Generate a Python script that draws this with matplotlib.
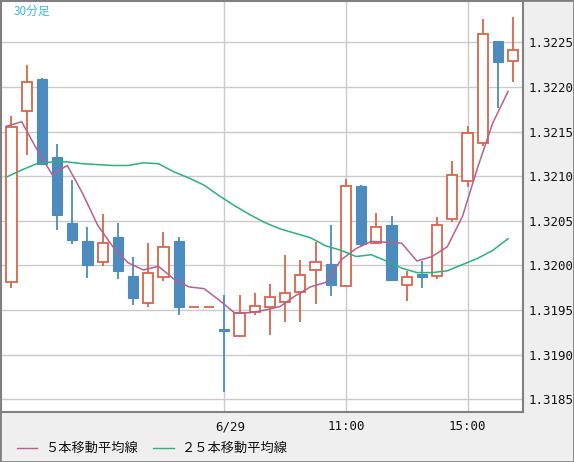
import numpy as np
import matplotlib.pyplot as plt
from matplotlib.lines import Line2D
from matplotlib.patches import Rectangle
import matplotlib.transforms as mtransforms

# 30分足のローソク足 (始値, 高値, 安値, 終値)
opens = [1.31981, 1.32173, 1.32209, 1.32121, 1.32048, 1.32027, 1.32004, 1.32032,
         1.31988, 1.31958, 1.31987, 1.32027, 1.31953, 1.31953, 1.31929, 1.31921,
         1.31948, 1.31953, 1.31959, 1.31970, 1.31995, 1.32002, 1.31977, 1.32089,
         1.32025, 1.32045, 1.31978, 1.31990, 1.31988, 1.32052, 1.32095, 1.32137,
         1.32251, 1.32229]
highs = [1.32167, 1.32225, 1.32210, 1.32136, 1.32096, 1.32043, 1.32058, 1.32048,
         1.32009, 1.32025, 1.32037, 1.32032, 1.31953, 1.31953, 1.31967, 1.31967,
         1.31969, 1.31979, 1.32012, 1.32006, 1.32026, 1.32045, 1.32097, 1.32090,
         1.32059, 1.32055, 1.31994, 1.32005, 1.32054, 1.32117, 1.32156, 1.32276,
         1.32252, 1.32278]
lows = [1.31975, 1.32124, 1.32113, 1.32040, 1.32024, 1.31986, 1.31999, 1.31985,
        1.31956, 1.31953, 1.31983, 1.31945, 1.31953, 1.31953, 1.31858, 1.31920,
        1.31945, 1.31922, 1.31937, 1.31937, 1.31957, 1.31966, 1.31976, 1.32022,
        1.32024, 1.31984, 1.31960, 1.31975, 1.31985, 1.32049, 1.32088, 1.32134,
        1.32176, 1.32206]
closes = [1.32155, 1.32206, 1.32114, 1.32057, 1.32028, 1.32001, 1.32025, 1.31994,
          1.31964, 1.31991, 1.32021, 1.31953, 1.31953, 1.31953, 1.31927, 1.31947,
          1.31955, 1.31965, 1.31969, 1.31989, 1.32004, 1.31978, 1.32089, 1.32024,
          1.32043, 1.31984, 1.31987, 1.31987, 1.32045, 1.32101, 1.32148, 1.32259,
          1.32228, 1.32241]

# 移動平均線
ma5 = [1.32156, 1.32161, 1.32130, 1.32102, 1.32112, 1.32081, 1.32045, 1.32021,
       1.32003, 1.31995, 1.31999, 1.31985, 1.31976, 1.31974, 1.31961, 1.31947,
       1.31947, 1.31950, 1.31954, 1.31966, 1.31976, 1.31981, 1.32006, 1.32019,
       1.32027, 1.32026, 1.32025, 1.32005, 1.32010, 1.32021, 1.32055, 1.32110,
       1.32160, 1.32195]
ma25 = [1.32099, 1.32107, 1.32114, 1.32116, 1.32116, 1.32114, 1.32113, 1.32112,
        1.32112, 1.32115, 1.32114, 1.32105, 1.32098, 1.32090, 1.32078, 1.32067,
        1.32057, 1.32048, 1.32041, 1.32036, 1.32031, 1.32022, 1.32017, 1.32010,
        1.32012, 1.32005, 1.31997, 1.31992, 1.31992, 1.31994, 1.32001, 1.32008,
        1.32017, 1.32030]

time_ticks = [14, 22, 30]
time_labels = ['6/29', '11:00', '15:00']
price_ticks = [1.3185, 1.3190, 1.3195, 1.3200, 1.3205, 1.3210, 1.3215, 1.3220, 1.3225]

RED = '#d9644c'
BLUE = '#4d8bbf'
PINK = '#b8608c'
GREEN = '#2ab27b'
BORDER = '#808080'
JP = ['Noto Sans CJK JP', 'DejaVu Sans']

o = np.array(opens)
h = np.array(highs)
l = np.array(lows)
c = np.array(closes)
x = np.arange(len(o))
up = c >= o

fig = plt.figure(figsize=(5.74, 4.62), dpi=100, facecolor='#efefef')
ax = fig.add_axes([1/574, 1 - 412/462, 522/574, 411/462])
ax.set_facecolor('white')

# ヒゲ
ax.vlines(x, l, h, colors=np.where(up, RED, BLUE), lw=1.3, zorder=3)
# 陽線 (白抜き) / 陰線 (塗りつぶし)
ax.bar(x[up], (c - o)[up], bottom=o[up], width=0.68, facecolor='white',
       edgecolor=RED, linewidth=1.3, zorder=4)
ax.bar(x[~up], (o - c)[~up], bottom=c[~up], width=0.68, color=BLUE,
       edgecolor=BLUE, linewidth=0.8, zorder=4)

# 移動平均は足の左端に描かれている
ax.plot(x - 0.33, ma5, color=PINK, lw=1.1, zorder=5)
ax.plot(x - 0.33, ma25, color=GREEN, lw=1.1, zorder=5)

ax.set_xlim(-0.69, 33.65)
ax.set_ylim(1.318358, 1.322963)
ax.set_xticks(time_ticks)
ax.set_xticklabels(time_labels)
ax.set_yticks(price_ticks)
ax.set_yticklabels(['%.4f' % p for p in price_ticks])
ax.yaxis.tick_right()
ax.tick_params(axis='y', length=0, pad=4, labelsize=9)
ax.tick_params(axis='x', length=0, pad=6, labelsize=9)
for lab in ax.get_xticklabels() + ax.get_yticklabels():
    lab.set_family('DejaVu Sans Mono')
    lab.set_color('#111111')
# 6/29 は少し右寄り
lab = ax.get_xticklabels()[0]
lab.set_transform(lab.get_transform() +
                  mtransforms.ScaledTranslation(0.06, 0, fig.dpi_scale_trans))

ax.grid(color='#cbcbcb', lw=1)
ax.set_axisbelow(True)
for s in ax.spines.values():
    s.set_color(BORDER)
    s.set_linewidth(1.5)

fig.text(14/574, 1 - 11/462, '30分足', color='#3db8ea', fontsize=8.5,
         family=JP, va='center', ha='left')

# 凡例
ly = 1 - 448/462
fig.add_artist(Line2D([17/574, 37/574], [ly, ly], transform=fig.transFigure, color=PINK, lw=1))
fig.text(45/574, ly, '５本移動平均線', fontsize=9.5, family=JP, va='center', color='#111111')
fig.add_artist(Line2D([153/574, 174/574], [ly, ly], transform=fig.transFigure, color=GREEN, lw=1))
fig.text(182/574, ly, '２５本移動平均線', fontsize=9.5, family=JP, va='center', color='#111111')

fig.add_artist(Rectangle((0, 0), 1, 1, transform=fig.transFigure, fill=False,
                         edgecolor=BORDER, lw=2))

fig.savefig('out.png', dpi=100, facecolor=fig.get_facecolor())
